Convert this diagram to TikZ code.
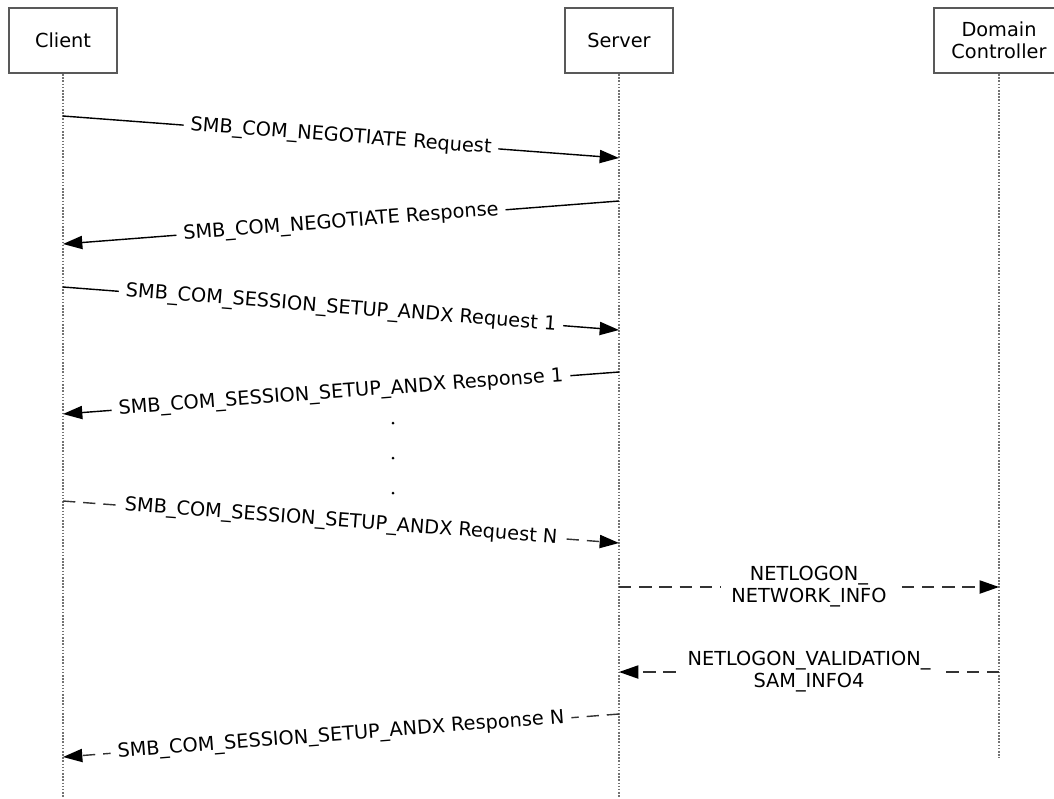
\documentclass[tikz,border=0pt]{standalone}
\usepackage{fontspec}
\setmainfont{DejaVu Sans}
\usepackage{tikz}
\usetikzlibrary{positioning}
\usetikzlibrary{arrows.meta}

\tikzset{
  party/.style={draw=black!65, line width=1.3pt, fill=white, minimum height=1.3cm, align=center, font=\fontsize{11}{12.5}\selectfont},
  lifeline/.style={dash pattern=on 0.9pt off 0.9pt, draw=black!55, line width=1.4pt},
  msg/.style={line width=0.8pt, -{Triangle[length=11pt,width=7.5pt,color=black]}},
  msgdash/.style={msg, draw=black!80, dash pattern=on 7pt off 4.5pt},
  msglabel/.style={midway, sloped, fill=white, inner xsep=4pt, inner ysep=1pt, align=center, font=\fontsize{11}{12.5}\selectfont}
}

\begin{document}
\begin{tikzpicture}[x=0.02cm, y=-0.02cm]
				\useasboundingbox (0,0) rectangle (1054,798);
				
				\node[party, minimum width=2.16cm] (client) at (63,40.5) {Client};
				\node[party, minimum width=2.16cm] (server) at (619,40.5) {Server};
				\node[party, minimum width=2.6cm] (dc) at (999,40.5) {Domain\\Controller};
				
				\coordinate (clientend) at (63,798);
				\coordinate (serverend) at (619,798);
				\coordinate (dcend) at (999,758);
				\draw[lifeline] (client.south) -- (clientend);
				\draw[lifeline] (server.south) -- (serverend);
				\draw[lifeline] (dc.south) -- (dcend);
				
				\coordinate (c1) at (63,116);  \coordinate (s1) at (619,158);
				\coordinate (s2) at (619,201); \coordinate (c2) at (63,244);
				\coordinate (c3) at (63,287);  \coordinate (s3) at (619,330);
				\coordinate (s4) at (619,372); \coordinate (c4) at (63,414);
				\coordinate (c5) at (63,501);  \coordinate (s5) at (619,543);
				\coordinate (s6) at (619,587); \coordinate (d6) at (999,587);
				\coordinate (d7) at (999,672); \coordinate (s7) at (619,672);
				\coordinate (s8) at (619,714); \coordinate (c8) at (63,757);
				
				\draw[msg] (c1) -- (s1) node[msglabel] {SMB\_COM\_NEGOTIATE Request};
				\draw[msg] (s2) -- (c2) node[msglabel] {SMB\_COM\_NEGOTIATE Response};
				\draw[msg] (c3) -- (s3) node[msglabel] {SMB\_COM\_SESSION\_SETUP\_ANDX Request 1};
				\draw[msg] (s4) -- (c4) node[msglabel] {SMB\_COM\_SESSION\_SETUP\_ANDX Response 1};
				
				\foreach \y in {423,458,493}
					\fill (393,\y) circle (1.5);
				
				\draw[msgdash] (c5) -- (s5) node[msglabel] {SMB\_COM\_SESSION\_SETUP\_ANDX Request N};
				\draw[msgdash] (s6) -- (d6) node[msglabel, inner xsep=6pt] {NETLOGON\_\\NETWORK\_INFO};
				\draw[msgdash] (d7) -- (s7) node[msglabel, inner xsep=6pt] {NETLOGON\_VALIDATION\_\\SAM\_INFO4};
				\draw[msgdash] (s8) -- (c8) node[msglabel] {SMB\_COM\_SESSION\_SETUP\_ANDX Response N};
			\end{tikzpicture}
\end{document}
